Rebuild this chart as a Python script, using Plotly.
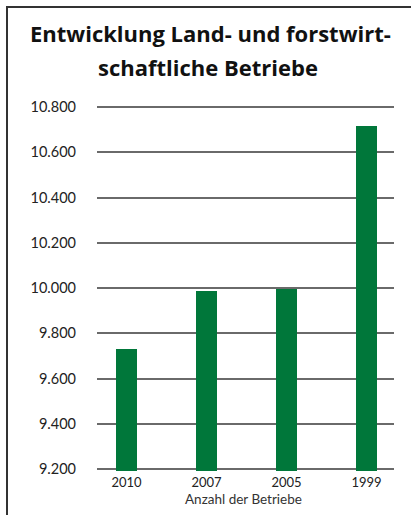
import plotly.graph_objects as go

# ---- data ----
categories = ["2010", "2007", "2005", "1999"]
betriebe = [9732, 9985, 9994, 10717]
y_tickvals = [9200, 9400, 9600, 9800, 10000, 10200, 10400, 10600, 10800]
y_ticktext = ["9.200", "9.400", "9.600", "9.800", "10.000", "10.200", "10.400", "10.600", "10.800"]
title_lines = ["Entwicklung Land- und forstwirt-", "schaftliche Betriebe"]
x_title = "Anzahl der Betriebe"

W, H = 411, 515
L, R, T, B = 97, 17, 105, 44
pw, ph = W - L - R, H - T - B

# y range so that 9200 sits at px 469 and 10800 at px 107
ppu = (469 - 107) / 1600.0
y_lo = 9200 - (471 - 469) / ppu
y_hi = 10800 + (107 - 105) / ppu

# x range so category centres fall at 126.5 + 80*i
x_lo = (L - 126.5) / 80.0
x_hi = (W - R - 126.5) / 80.0

def px_x(p):
    return (p - L) / pw

def px_y(p):
    return (H - B - p) / ph

FONT = "Lato"
TFONT = "Open Sans"
GREEN = "#00773A"

fig = go.Figure(
    go.Bar(
        x=list(range(len(categories))),
        y=betriebe,
        marker=dict(color=GREEN, line=dict(width=0)),
        width=21 / 80.0,
        hoverinfo="skip",
    )
)

fig.update_layout(
    width=W,
    height=H,
    margin=dict(l=L, r=R, t=T, b=B, pad=0),
    paper_bgcolor="white",
    plot_bgcolor="white",
    showlegend=False,
    font=dict(family=FONT, color="#222222"),
    bargap=0,
)

fig.update_xaxes(
    range=[x_lo, x_hi],
    tickmode="array",
    tickvals=list(range(len(categories))),
    ticktext=categories,
    showgrid=False,
    zeroline=False,
    showline=False,
    ticks="",
    tickfont=dict(size=13, color="#222222", family=FONT),
    ticklabelstandoff=2,
)
fig.update_yaxes(
    range=[y_lo, y_hi],
    tickmode="array",
    tickvals=y_tickvals,
    ticktext=y_ticktext,
    showgrid=True,
    gridcolor="#6a6a6a",
    gridwidth=1.6,
    zeroline=False,
    showline=False,
    ticks="",
    tickfont=dict(size=14.5, color="#222222", family=FONT),
    ticklabelstandoff=20,
)

# title lines
fig.add_annotation(
    text=title_lines[0], xref="paper", yref="paper",
    x=px_x(210), y=px_y(33), xanchor="center", yanchor="middle",
    showarrow=False, font=dict(size=22, family=TFONT, color="#111111", weight="bold"),
)
fig.add_annotation(
    text=title_lines[1], xref="paper", yref="paper",
    x=px_x(208), y=px_y(67), xanchor="center", yanchor="middle",
    showarrow=False, font=dict(size=22, family=TFONT, color="#111111", weight="bold"),
)
# axis title
fig.add_annotation(
    text=x_title, xref="paper", yref="paper",
    x=px_x(243), y=px_y(499), xanchor="center", yanchor="middle",
    showarrow=False, font=dict(size=13.5, family=FONT, color="#333333"),
)

# frame lines (top and left)
fig.add_shape(type="line", xref="paper", yref="paper",
              x0=px_x(6), x1=px_x(W + 2), y0=px_y(7), y1=px_y(7),
              line=dict(color="#333333", width=2))
fig.add_shape(type="line", xref="paper", yref="paper",
              x0=px_x(7), x1=px_x(7), y0=px_y(6), y1=px_y(H + 2),
              line=dict(color="#333333", width=2))

fig.write_html(
    "out.html",
    config={"displayModeBar": False},
    post_script="document.body.style.margin='0';document.body.style.padding='0';",
)
